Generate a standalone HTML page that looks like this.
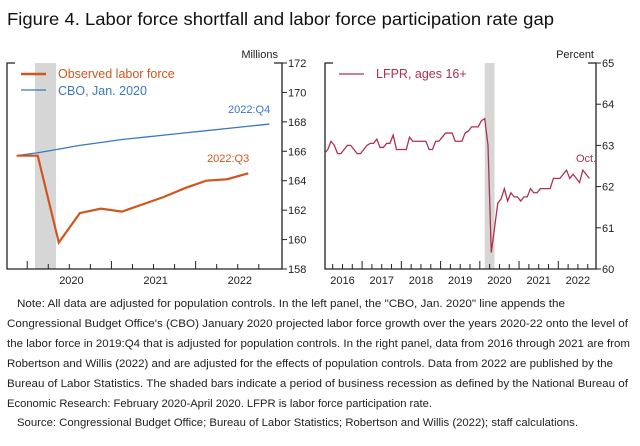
<!DOCTYPE html>
<html><head><meta charset="utf-8"><style>
html,body{margin:0;padding:0;background:#fff;}
svg{display:block;font-family:"Liberation Sans",sans-serif;}
</style></head><body>
<svg id="fig" width="640" height="446" viewBox="0 0 640 446">
<text x="7" y="25" font-size="17.5" fill="#111" textLength="547" lengthAdjust="spacingAndGlyphs">Figure 4. Labor force shortfall and labor force participation rate gap</text>
<g id="left"></g>
<g id="right"></g>
<g font-size="11" fill="#222">
<text x="17" y="307" textLength="548" lengthAdjust="spacingAndGlyphs">Note: All data are adjusted for population controls. In the left panel, the "CBO, Jan. 2020" line appends the</text>
<text x="7" y="327" textLength="621" lengthAdjust="spacingAndGlyphs">Congressional Budget Office's (CBO) January 2020 projected labor force growth over the years 2020-22 onto the level of</text>
<text x="7" y="347" textLength="623" lengthAdjust="spacingAndGlyphs">the labor force in 2019:Q4 that is adjusted for population controls. In the right panel, data from 2016 through 2021 are from</text>
<text x="7" y="367" textLength="606" lengthAdjust="spacingAndGlyphs">Robertson and Willis (2022) and are adjusted for the effects of population controls. Data from 2022 are published by the</text>
<text x="7" y="387" textLength="621" lengthAdjust="spacingAndGlyphs">Bureau of Labor Statistics. The shaded bars indicate a period of business recession as defined by the National Bureau of</text>
<text x="7" y="407" textLength="425" lengthAdjust="spacingAndGlyphs">Economic Research: February 2020-April 2020. LFPR is labor force participation rate.</text>
<text x="17" y="426" textLength="561" lengthAdjust="spacingAndGlyphs">Source: Congressional Budget Office; Bureau of Labor Statistics; Robertson and Willis (2022); staff calculations.</text>
</g>
</svg>
<script>
const NS="http://www.w3.org/2000/svg";
// Left panel data (quarterly, starting 2019:Q4)
const leftYTicks=[158,160,162,164,166,168,170,172];
const leftYears=["2020","2021","2022"];
const observed=[165.7,165.7,159.8,161.8,162.1,161.9,162.4,162.9,163.5,164.0,164.1,164.5];
const cbo=[165.7,165.9,166.15,166.4,166.6,166.8,166.95,167.1,167.25,167.4,167.55,167.7,167.85];
// Right panel data (monthly, starting Jan 2016)
const rightYTicks=[60,61,62,63,64,65];
const rightYears=["2016","2017","2018","2019","2020","2021","2022"];
const lfpr=[
62.8,62.9,63.1,63.0,62.8,62.8,62.9,63.0,63.0,62.9,62.8,62.8,
62.9,63.0,63.05,63.05,63.15,62.95,62.95,63.05,63.05,63.25,62.9,62.9,
62.9,62.9,63.2,63.1,63.1,63.1,63.1,63.1,62.9,62.9,63.1,63.1,
63.2,63.3,63.3,63.3,63.1,63.1,63.1,63.3,63.35,63.45,63.45,63.45,
63.6,63.65,63.0,60.4,61.0,61.6,61.7,61.95,61.65,61.85,61.75,61.75,
61.65,61.75,61.75,61.95,61.85,61.85,61.95,61.95,61.95,61.95,62.2,62.2,
62.2,62.3,62.4,62.2,62.3,62.2,62.1,62.4,62.3,62.2];

function el(tag,attrs,parent,text){const e=document.createElementNS(NS,tag);for(const k in attrs)e.setAttribute(k,attrs[k]);if(text!==undefined)e.textContent=text;parent.appendChild(e);return e;}

const yTop=63,bot=269;
// ---------- LEFT ----------
(function(){
const g=document.getElementById('left');
const x0=7,x1=282,ymin=158,ymax=172;
const qx=i=>16.7+i*21.05; // i = quarters since 2019:Q4
const y=v=>bot-(v-ymin)/(ymax-ymin)*(bot-yTop);
const sh=el('rect',{x:qx(0.87),y:yTop,width:21,height:bot-yTop,fill:'#d6d6d6'},g);


el('path',{d:`M${x0} ${yTop+8}V${yTop}H${x0+8} M${x0} ${yTop}V${bot}H${x1}V${yTop}H${x1-8}`,fill:'none',stroke:'#222','stroke-width':1.3},g);
leftYTicks.forEach(v=>{const t=el('text',{x:x1+6,y:y(v)+4,'font-size':11,fill:'#222'},g,String(v));

el('line',{x1:x1,x2:x1+5,y1:y(v),y2:y(v),stroke:'#222'},g);});
for(let i=0;i<13;i++){const xx=qx(i-0.5);if(xx>x0+2&&xx<x1-2)el('line',{x1:xx,x2:xx,y1:bot,y2:bot-(i%4==1?8:5),stroke:'#222'},g);}
leftYears.forEach((s,k)=>{const t=el('text',{x:qx(4*k+2.6),y:bot+15,'font-size':11,'text-anchor':'middle',fill:'#222'},g,s);
});
const u=el('text',{x:x1-4,y:yTop-5,'font-size':11,'text-anchor':'end',fill:'#222'},g,'Millions');

const pb=el('path',{d:cbo.map((v,i)=>(i?'L':'M')+qx(i)+' '+y(v)).join(''),fill:'none',stroke:'#3b78c3','stroke-width':1.3},g);

const po=el('path',{d:observed.map((v,i)=>(i?'L':'M')+qx(i)+' '+y(v)).join(''),fill:'none',stroke:'#d0561e','stroke-width':2.2},g);

el('line',{x1:21,x2:46,y1:74,y2:74,stroke:'#d0561e','stroke-width':2.5},g);
let t=el('text',{x:58,y:78,'font-size':12.5,fill:'#d0561e'},g,'Observed labor force');
el('line',{x1:21,x2:46,y1:90,y2:90,stroke:'#3b78c3','stroke-width':1.3},g);
t=el('text',{x:58,y:95,'font-size':12.5,fill:'#3b78c3'},g,'CBO, Jan. 2020');
t=el('text',{x:228,y:113,'font-size':11,fill:'#3b78c3'},g,'2022:Q4');
t=el('text',{x:207,y:162,'font-size':11,fill:'#d0561e'},g,'2022:Q3');
})();
// ---------- RIGHT ----------
(function(){
const g=document.getElementById('right');
const x0=325,x1=596,ymin=60,ymax=65;
const mx=i=>324.5+i*3.27; // months since Jan 2016
const y=v=>bot-(v-ymin)/(ymax-ymin)*(bot-yTop);
const sh=el('rect',{x:mx(49),y:yTop,width:3.27*3,height:bot-yTop,fill:'#d6d6d6'},g);

el('path',{d:`M${x0} ${yTop+8}V${yTop}H${x0+8} M${x0} ${yTop}V${bot}H${x1}V${yTop}H${x1-8}`,fill:'none',stroke:'#222','stroke-width':1.3},g);
rightYTicks.forEach(v=>{const t=el('text',{x:x1+6,y:y(v)+4,'font-size':11,fill:'#222'},g,String(v));

el('line',{x1:x1,x2:x1+5,y1:y(v),y2:y(v),stroke:'#222'},g);});
for(let q=1;q<28;q++){const xx=mx(q*3-0.5);if(xx<x1-2)el('line',{x1:xx,x2:xx,y1:bot,y2:bot-(q%4==0?8:5),stroke:'#222'},g);}
rightYears.forEach((s,k)=>{const t=el('text',{x:mx(12*k+5.5),y:bot+15,'font-size':11,'text-anchor':'middle',fill:'#222'},g,s);
});
const u=el('text',{x:x1-2,y:yTop-5,'font-size':11,'text-anchor':'end',fill:'#222'},g,'Percent');

const p=el('path',{d:lfpr.map((v,i)=>(i?'L':'M')+mx(i)+' '+y(v)).join(''),fill:'none',stroke:'#b0304f','stroke-width':1.3},g);

el('line',{x1:339,x2:364,y1:74,y2:74,stroke:'#b0304f','stroke-width':1.3},g);
let t=el('text',{x:376,y:78,'font-size':12.5,fill:'#b0304f'},g,'LFPR, ages 16+');
t=el('text',{x:576,y:162,'font-size':11,fill:'#b0304f'},g,'Oct.');
})();
</script>
</body></html>
